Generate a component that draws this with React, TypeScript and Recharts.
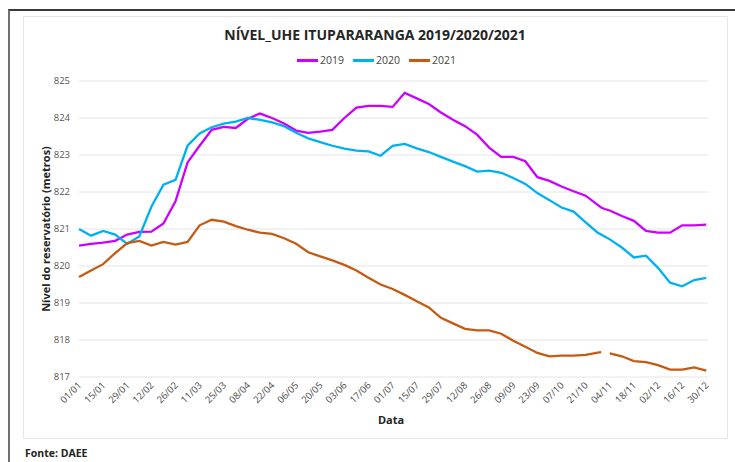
import { LineChart, Line, XAxis, YAxis, CartesianGrid } from 'recharts';

// 2020 calendar, one tick every 14 days
const xLabels = [
  '01/01', '15/01', '29/01', '12/02', '26/02', '11/03', '25/03', '08/04', '22/04',
  '06/05', '20/05', '03/06', '17/06', '01/07', '15/07', '29/07', '12/08', '26/08',
  '09/09', '23/09', '07/10', '21/10', '04/11', '18/11', '02/12', '16/12', '30/12',
];
const tickDays = xLabels.map((_, i) => i * 14);
const yTicks = [817, 818, 819, 820, 821, 822, 823, 824, 825];

// day of year (0 = 01/01)
const days = [
  0, 7, 14, 21, 28, 35, 42, 49, 56, 63, 70, 77, 84, 91, 98, 105, 112, 119, 126, 133,
  140, 147, 154, 161, 168, 175, 182, 189, 196, 203, 210, 217, 224, 231, 238, 245, 252,
  259, 266, 273, 280, 287, 294, 301, 303, 305, 308, 315, 322, 329, 336, 343, 350, 357, 364,
];

const level2019 = [
  820.55, 820.6, 820.63, 820.68, 820.85, 820.92, 820.93, 821.15, 821.75, 822.8, 823.25,
  823.68, 823.76, 823.73, 823.98, 824.12, 824.0, 823.85, 823.66, 823.6, 823.63, 823.68,
  824.0, 824.28, 824.33, 824.33, 824.3, 824.68, 824.53, 824.38, 824.15, 823.95, 823.78,
  823.55, 823.2, 822.95, 822.95, 822.83, 822.4, 822.3, 822.15, 822.02, 821.9, 821.65,
  821.58, 821.54, 821.5, 821.35, 821.22, 820.95, 820.9, 820.9, 821.1, 821.1, 821.12,
];

const level2020 = [
  821.0, 820.82, 820.95, 820.85, 820.6, 820.8, 821.6, 822.2, 822.33, 823.25, 823.58,
  823.75, 823.85, 823.9, 824.0, 823.95, 823.88, 823.78, 823.6, 823.45, 823.35, 823.25,
  823.17, 823.12, 823.1, 822.98, 823.25, 823.3, 823.18, 823.08, 822.95, 822.82, 822.7,
  822.55, 822.58, 822.52, 822.38, 822.22, 821.97, 821.78, 821.58, 821.47, 821.18, 820.9,
  820.85, 820.8, 820.72, 820.5, 820.23, 820.28, 819.95, 819.55, 819.45, 819.62, 819.68,
];

const level2021 = [
  819.7, 819.88, 820.05, 820.35, 820.62, 820.68, 820.55, 820.65, 820.58, 820.65, 821.1,
  821.25, 821.2, 821.08, 820.98, 820.9, 820.87, 820.75, 820.6, 820.37, 820.26, 820.15,
  820.03, 819.88, 819.68, 819.5, 819.38, 819.22, 819.05, 818.88, 818.6, 818.45, 818.3,
  818.26, 818.26, 818.17, 817.98, 817.82, 817.65, 817.56, 817.58, 817.58, 817.6, 817.66,
  817.67, null, 817.64, 817.56, 817.43, 817.4, 817.32, 817.2, 817.2, 817.26, 817.17,
];

const data = days.map((day, i) => ({
  day,
  y2019: level2019[i],
  y2020: level2020[i],
  y2021: level2021[i],
}));

const series = [
  { key: 'y2019', name: '2019', color: '#CC00FF' },
  { key: 'y2020', name: '2020', color: '#00B0F0' },
  { key: 'y2021', name: '2021', color: '#C55A11' },
];

const font = '"Open Sans", sans-serif';

const XTick = ({ x, y, payload }: any) => (
  <text
    transform={`translate(${x + 3},${y + 9}) rotate(-45)`}
    textAnchor="end"
    fontSize={9.5}
    fontFamily={font}
    fill="#4a4a4a"
  >
    {xLabels[Math.round(payload.value / 14)]}
  </text>
);

export default function App() {
  return (
    <div
      style={{
        position: 'absolute',
        left: 0,
        top: 0,
        width: 735,
        height: 462,
        overflow: 'hidden',
        background: '#fff',
        fontFamily: font,
      }}
    >
      <div
        style={{
          position: 'absolute',
          left: 8,
          top: 9,
          right: 0,
          bottom: -10,
          borderTop: '2px solid #3a3a3a',
          borderLeft: '2px solid #707070',
        }}
      />
      <div
        style={{
          position: 'absolute',
          left: 23,
          top: 16,
          width: 703,
          height: 421,
          border: '1px solid #e6e6e6',
        }}
      />
      <div
        style={{
          position: 'absolute',
          left: 0,
          width: 750,
          top: 25,
          textAlign: 'center',
          fontSize: 14,
          fontWeight: 700,
          color: '#262626',
        }}
      >
        NÍVEL_UHE ITUPARARANGA 2019/2020/2021
      </div>
      <div
        style={{
          position: 'absolute',
          left: 297,
          top: 53,
          display: 'flex',
          gap: 9,
          fontSize: 10.5,
          color: '#444',
        }}
      >
        {series.map((s) => (
          <div key={s.key} style={{ display: 'flex', alignItems: 'center' }}>
            <span style={{ width: 21, height: 3, background: s.color, marginRight: 2 }} />
            <span>{s.name}</span>
          </div>
        ))}
      </div>
      <div
        style={{
          position: 'absolute',
          left: 45,
          top: 229,
          transform: 'translate(-50%, -50%) rotate(-90deg)',
          whiteSpace: 'nowrap',
          fontSize: 11,
          fontWeight: 700,
          color: '#222',
        }}
      >
        Nível do reservatório (metros)
      </div>
      <div
        style={{
          position: 'absolute',
          left: 391,
          top: 419,
          transform: 'translate(-50%, -50%)',
          fontSize: 11,
          fontWeight: 700,
          color: '#222',
        }}
      >
        Data
      </div>
      <div
        style={{
          position: 'absolute',
          left: 25,
          top: 446,
          fontSize: 10.5,
          lineHeight: '14px',
          fontWeight: 700,
          color: '#222',
        }}
      >
        Fonte: DAEE
      </div>
      <LineChart
        width={735}
        height={462}
        data={data}
        margin={{ top: 81, right: 27, bottom: 45, left: 39 }}
        style={{ position: 'absolute', left: 0, top: 0 }}
      >
        <CartesianGrid stroke="#e4e4e4" vertical={false} />
        <XAxis
          dataKey="day"
          type="number"
          domain={[0, 365]}
          ticks={tickDays}
          interval={0}
          height={40}
          axisLine={false}
          tickLine={false}
          tickSize={0}
          tickMargin={0}
          tick={<XTick />}
        />
        <YAxis
          type="number"
          domain={[817, 825]}
          ticks={yTicks}
          width={40}
          axisLine={false}
          tickLine={false}
          tickMargin={3}
          tick={{ fontSize: 9.5, fill: '#555', fontFamily: font }}
        />
        {series.map((s) => (
          <Line
            key={s.key}
            dataKey={s.key}
            name={s.name}
            type="linear"
            stroke={s.color}
            strokeWidth={2.3}
            dot={false}
            connectNulls={false}
            isAnimationActive={false}
          />
        ))}
      </LineChart>
    </div>
  );
}
